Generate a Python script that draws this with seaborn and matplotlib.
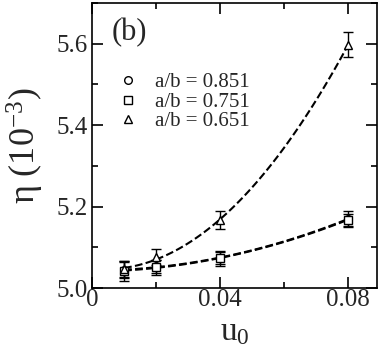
import numpy as np
import pandas as pd
import matplotlib
matplotlib.use('Agg')
import matplotlib.pyplot as plt
import seaborn as sns
from matplotlib.lines import Line2D
from matplotlib.ticker import MultipleLocator

# data
u0 = [0.01, 0.02, 0.04, 0.08]
eta_851 = [5.044, 5.053, 5.074, 5.170]
err_851 = [0.020, 0.015, 0.015, 0.020]
eta_751 = [5.042, 5.051, 5.073, 5.168]
err_751 = [0.025, 0.018, 0.018, 0.015]
eta_651 = [5.046, 5.076, 5.166, 5.598]
err_651 = [0.020, 0.020, 0.022, 0.030]
labels = ['a/b = 0.851', 'a/b = 0.751', 'a/b = 0.651']
markers = ['o', 's', '^']

sns.set_style('ticks')
plt.rcParams['font.family'] = ['Liberation Serif', 'DejaVu Serif']
plt.rcParams['mathtext.fontset'] = 'custom'
plt.rcParams['mathtext.rm'] = 'Liberation Serif'
plt.rcParams['mathtext.default'] = 'regular'

fig = plt.figure(figsize=(3.82, 3.63), dpi=100)
ax = fig.add_axes([0.241, 0.2066, 0.746, 0.785])

series = [(eta_851, err_851), (eta_751, err_751), (eta_651, err_651)]

# dashed quadratic fits through each data set
for (eta, err) in series:
    c = np.polyfit(u0, eta, 2)
    xf = np.linspace(u0[0], u0[-1], 100)
    fit = pd.DataFrame({'u0': xf, 'eta': np.polyval(c, xf)})
    sns.lineplot(data=fit, x='u0', y='eta', ax=ax, color='black', lw=1.5,
                 dashes=(5, 3), linestyle='--')

for (eta, err), m in zip(series, markers):
    ax.errorbar(u0, eta, yerr=err, fmt=m, mfc='white', mec='black', ms=5.5,
                mew=1.0, ecolor='black', elinewidth=1.0, capsize=3.5, capthick=1.0,
                zorder=3)

handles = [Line2D([], [], marker=m, ls='none', mfc='white', mec='black', ms=5.5, mew=1.0)
           for m in markers]
ax.legend(handles, labels, loc='upper left', bbox_to_anchor=(0.06, 0.785), frameon=False,
          prop={'family': 'Liberation Serif', 'size': 15}, handlelength=1.0,
          handletextpad=0.8, labelspacing=0.0, borderaxespad=0)

ax.text(0.07, 0.895, '(b)', transform=ax.transAxes, fontsize=22, va='center', ha='left',
        family='Liberation Serif')

ax.set_xlim(0, 0.089)
ax.set_ylim(5.0, 5.7)
ax.xaxis.set_major_locator(MultipleLocator(0.04))
ax.xaxis.set_minor_locator(MultipleLocator(0.02))
ax.yaxis.set_major_locator(MultipleLocator(0.2))
ax.yaxis.set_minor_locator(MultipleLocator(0.1))
ax.xaxis.set_major_formatter(plt.FuncFormatter(lambda v, p: '0' if abs(v) < 1e-9 else f'{v:.2f}'))
ax.yaxis.set_major_formatter(plt.FuncFormatter(lambda v, p: f'{v:.1f}'))
ax.tick_params(which='both', direction='in', top=True, right=True, width=1.2,
               labelsize=18, color='black')
ax.tick_params(which='major', length=8)
ax.tick_params(which='minor', length=4)
ax.tick_params(axis='x', pad=1)
ax.tick_params(axis='y', pad=3)
for lab in ax.get_xticklabels() + ax.get_yticklabels():
    lab.set_family('Liberation Serif')
for s in ax.spines.values():
    s.set_linewidth(1.2)
    s.set_color('black')

ax.set_xlabel('u$_{0}$', fontsize=24, labelpad=4, family='Liberation Serif')
ax.set_ylabel('η (10$^{-3}$)', fontsize=26, labelpad=8, family='Liberation Serif')

fig.savefig('out.png', dpi=100)
